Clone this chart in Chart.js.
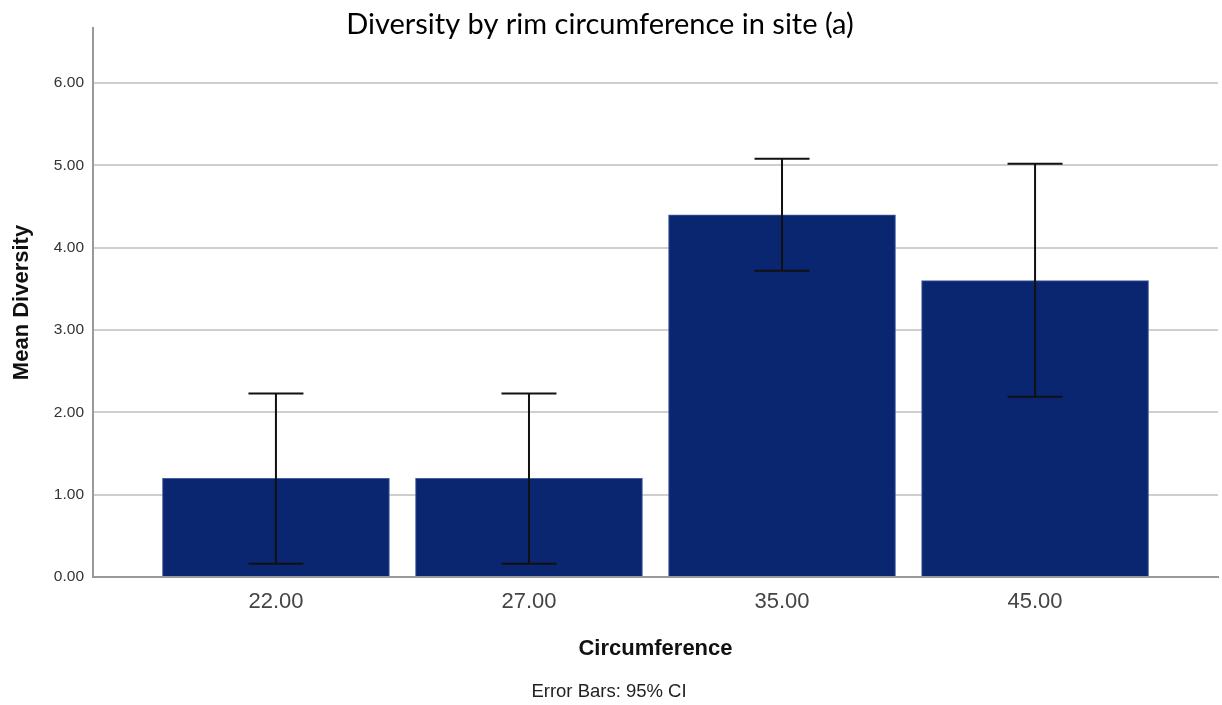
<!DOCTYPE html>
<html>
<head>
<meta charset="utf-8">
<script src="https://cdn.jsdelivr.net/npm/chart.js@4/dist/chart.umd.min.js"></script>
<style>
  html, body { margin: 0; padding: 0; background: #fff; }
  #wrap { width: 1222px; height: 705px; }
</style>
</head>
<body>
<div id="wrap"><canvas id="diversityChart" width="1222" height="705"></canvas></div>
<script>
// Данные графика
const categories = ['22.00', '27.00', '35.00', '45.00'];
const meanDiversity = [1.2, 1.2, 4.4, 3.6];
const ciLower = [0.16, 0.16, 3.72, 2.19];
const ciUpper = [2.23, 2.23, 5.08, 5.02];
const yTickValues = [0, 1, 2, 3, 4, 5, 6];

const chartTitle = 'Diversity by rim circumference in site (a)';
const footNote = 'Error Bars: 95% CI';

// Планки погрешностей (95% ДИ)
const errorBarsPlugin = {
    id: 'errorBars',
    afterDatasetsDraw(chart) {
        const ctx = chart.ctx;
        const x = chart.scales.x;
        const y = chart.scales.y;
        ctx.save();
        ctx.strokeStyle = '#111';
        ctx.lineWidth = 2;
        categories.forEach((c, i) => {
            const px = x.getPixelForValue(i);
            const top = y.getPixelForValue(ciUpper[i]);
            const bottom = y.getPixelForValue(ciLower[i]);
            ctx.beginPath();
            ctx.moveTo(px, top);
            ctx.lineTo(px, bottom);
            ctx.moveTo(px - 27.5, top);
            ctx.lineTo(px + 27.5, top);
            ctx.moveTo(px - 27.5, bottom);
            ctx.lineTo(px + 27.5, bottom);
            ctx.stroke();
        });
        ctx.restore();
    }
};

// Заголовок и подпись снизу
const textPlugin = {
    id: 'texts',
    afterDraw(chart) {
        const ctx = chart.ctx;
        ctx.save();
        ctx.fillStyle = '#000';
        ctx.textAlign = 'center';
        ctx.textBaseline = 'middle';
        ctx.font = '29px Lato';
        ctx.fillText(chartTitle, 600, 25);
        ctx.fillStyle = '#222';
        ctx.font = '18.5px "Liberation Sans", Arial';
        ctx.fillText(footNote, 609, 692);
        ctx.restore();
    }
};

const ctx = document.getElementById('diversityChart').getContext('2d');
new Chart(ctx, {
    type: 'bar',
    data: {
        datasets: [{
            data: meanDiversity.map((v, i) => ({ x: i, y: v })),
            backgroundColor: 'rgb(10, 38, 112)',
            borderColor: 'rgb(70, 95, 160)',
            borderWidth: 1,
            borderSkipped: 'bottom',
            barThickness: 227
        }]
    },
    options: {
        responsive: false,
        animation: false,
        layout: { padding: { left: 0, right: 4, top: 28, bottom: 38 } },
        plugins: {
            legend: { display: false },
            title: { display: false },
            tooltip: { enabled: false }
        },
        scales: {
            x: {
                type: 'linear',
                offset: false,
                min: -0.723,
                max: 3.723,
                afterBuildTicks(scale) {
                    scale.ticks = categories.map((c, i) => ({ value: i }));
                },
                afterFit(scale) { scale.height = 90; },
                grid: { display: false, drawTicks: false },
                border: { display: true, color: '#999', width: 2 },
                ticks: {
                    padding: 12,
                    color: '#444',
                    font: { family: '"Liberation Sans", Arial', size: 22 },
                    callback: (v) => categories[v]
                },
                title: {
                    display: true,
                    text: 'Circumference',
                    color: '#111',
                    font: { family: '"Liberation Sans", Arial', size: 22, weight: 'bold', lineHeight: 1.2 },
                    padding: { top: 0, bottom: 5 }
                }
            },
            y: {
                min: 0,
                max: 6.67,
                afterBuildTicks(scale) {
                    scale.ticks = yTickValues.map(v => ({ value: v }));
                },
                afterFit(scale) { scale.width = 93; },
                grid: { color: '#cfcfcf', lineWidth: 2, drawTicks: false },
                border: { display: true, color: '#999', width: 2 },
                ticks: {
                    padding: 9,
                    color: '#333',
                    font: { family: '"Liberation Sans", Arial', size: 15.5 },
                    callback: (v) => v.toFixed(2)
                },
                title: {
                    display: true,
                    text: 'Mean Diversity',
                    color: '#111',
                    font: { family: '"Liberation Sans", Arial', size: 22, weight: 'bold', lineHeight: 1.2 },
                    padding: { top: 9, bottom: 0 }
                }
            }
        }
    },
    plugins: [errorBarsPlugin, textPlugin]
});
</script>
</body>
</html>
